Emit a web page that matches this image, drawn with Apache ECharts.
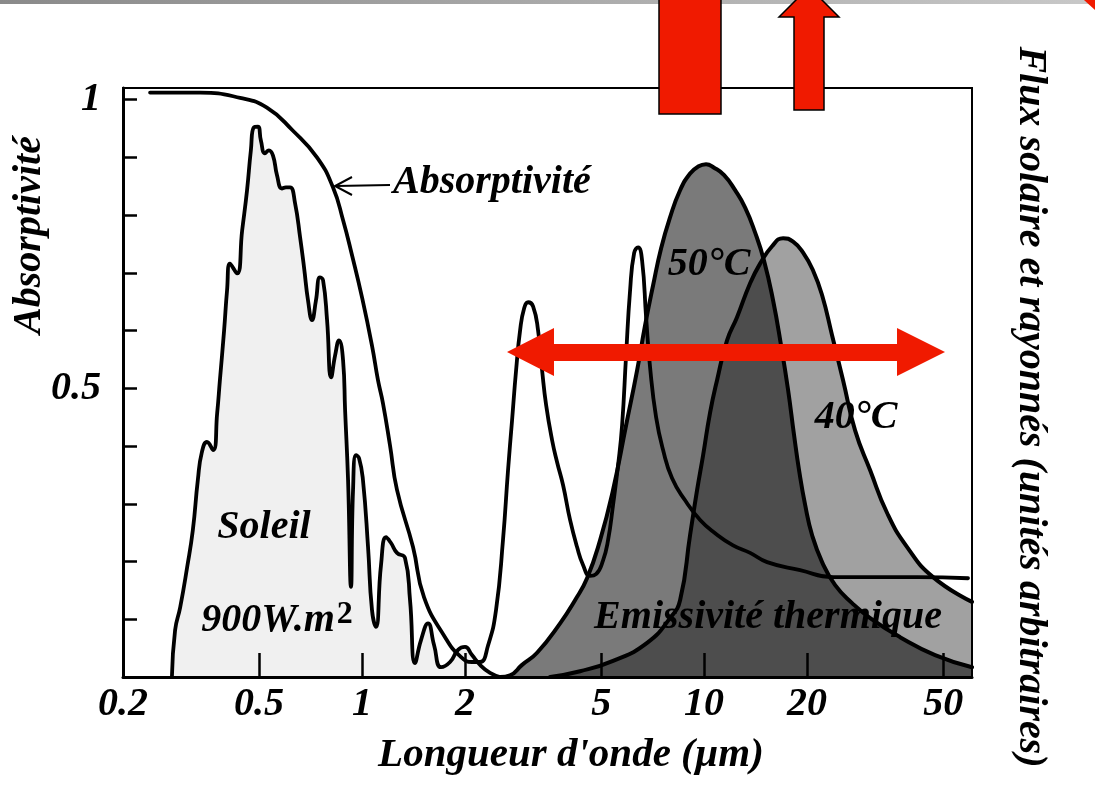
<!DOCTYPE html>
<html><head><meta charset="utf-8">
<script src="https://cdn.jsdelivr.net/npm/echarts@6/dist/echarts.min.js"></script>
<style>html,body{margin:0;padding:0;background:#fff}#c{width:1095px;height:787px}</style>
</head><body><div id="c"></div>
<script>
// ---- data (wavelength in µm, value in arbitrary units / absorptivity) ----
const xTicks = [0.2, 0.5, 1, 2, 5, 10, 20, 50];
const xTickLabels = ['0.2', '0.5', '1', '2', '5', '10', '20', '50'];
const yTicks = [0.1, 0.2, 0.3, 0.4, 0.5, 0.6, 0.7, 0.8, 0.9, 1.0];
const yLabelValues = [0.5, 1];
const xRange = [0.2, 60.7];
const yRange = [0, 1.02];

const soleil = [
 [0.278,0],[0.284,0.081],[0.294,0.121],[0.308,0.19],[0.320,0.254],[0.331,0.341],[0.340,0.389],
 [0.352,0.407],[0.367,0.393],[0.377,0.457],[0.384,0.514],[0.395,0.600],[0.403,0.67],[0.411,0.716],
 [0.431,0.699],[0.446,0.773],[0.461,0.843],[0.473,0.912],[0.483,0.952],[0.496,0.953],[0.506,0.929],
 [0.520,0.907],[0.534,0.912],[0.549,0.903],[0.564,0.869],[0.583,0.846],[0.599,0.848],[0.616,0.848],
 [0.637,0.820],[0.659,0.761],[0.677,0.708],[0.695,0.652],[0.714,0.618],[0.733,0.652],[0.753,0.692],
 [0.769,0.687],[0.790,0.618],[0.812,0.519],[0.834,0.557],[0.856,0.583],[0.880,0.548],[0.892,0.462],
 [0.910,0.341],[0.928,0.156],[0.941,0.324],[0.960,0.384],[0.980,0.379],[1.006,0.341],[1.041,0.225],
 [1.069,0.116],[1.098,0.087],[1.136,0.194],[1.175,0.242],[1.215,0.232],[1.265,0.215],[1.335,0.206],
 [1.381,0.133],[1.428,0.024],[1.487,0.064],[1.559,0.093],[1.624,0.055],[1.702,0.017],[1.808,0.026],
 [1.908,0.047],[2.0,0.052],[2.096,0.038],[2.213,0.021],[2.366,0.007],[2.531,0]
];

const absorptivite = [
 [0.240,1.012],[0.336,1.012],[0.440,1.003],[0.527,0.986],[0.628,0.946],[0.738,0.900],[0.822,0.848],
 [0.880,0.791],[0.935,0.730],[1.000,0.657],[1.069,0.574],[1.113,0.514],[1.151,0.474],[1.207,0.401],
 [1.265,0.324],[1.409,0.225],[1.518,0.138],[1.748,0.069],[1.934,0.036],[2.096,0.026],[2.213,0.026],
 [2.336,0.055],[2.464,0.116],[2.582,0.237],[2.671,0.358],[2.745,0.445],[2.820,0.531],[2.897,0.600],
 [2.976,0.638],[3.058,0.649],[3.162,0.642],[3.270,0.600],[3.360,0.531],[3.452,0.471],[3.594,0.410],
 [3.717,0.372],[3.870,0.332],[4.056,0.272],[4.252,0.225],[4.426,0.194],[4.640,0.175],[4.831,0.178],
 [5.065,0.202],[5.238,0.237],[5.417,0.298],[5.604,0.367],[5.757,0.436],[5.914,0.557],[6.076,0.670],
 [6.242,0.734],[6.412,0.744],[6.587,0.721],[6.767,0.623],[6.951,0.536],[7.237,0.450],[7.586,0.393],
 [8.060,0.344],[8.797,0.306],[9.733,0.272],[10.77,0.249],[12.15,0.228],[13.63,0.215],[15.28,0.199],
 [19.08,0.185],[23.82,0.173],[30.58,0.173],[41.95,0.173],[59.1,0.171]
];

const emission50 = [
 [2.531,0],[2.708,0.003],[2.936,0.021],[3.248,0.042],[3.793,0.093],[4.194,0.133],[4.547,0.171],
 [4.965,0.237],[5.417,0.324],[5.914,0.436],[6.369,0.531],[6.720,0.609],[7.091,0.678],[7.484,0.742],
 [7.950,0.796],[8.506,0.843],[9.099,0.872],[9.603,0.884],[10.13,0.888],[10.69,0.882],[11.44,0.869],
 [12.32,0.843],[13.18,0.813],[14.09,0.770],[14.97,0.721],[15.91,0.652],[16.79,0.574],[17.60,0.497],
 [18.32,0.419],[18.95,0.358],[19.74,0.298],[20.68,0.246],[22.13,0.199],[24.16,0.159],[27.08,0.128],
 [30.58,0.102],[37.40,0.069],[47.34,0.038],[60.7,0.017]
];

const emission40 = [
 [3.546,0],[4.340,0.010],[5.417,0.028],[6.813,0.059],[7.950,0.102],[8.506,0.133],[9.099,0.246],
 [9.540,0.324],[9.932,0.384],[10.41,0.458],[10.91,0.514],[11.67,0.583],[12.48,0.623],[13.63,0.682],
 [14.58,0.716],[15.80,0.746],[17.02,0.760],[18.20,0.754],[19.47,0.735],[20.82,0.704],[22.13,0.661],
 [23.66,0.592],[25.48,0.514],[27.63,0.427],[30.58,0.358],[34.28,0.284],[39.22,0.225],[46.70,0.173],
 [60.7,0.130]
];

// ---- chart ----
const FONT = "'Liberation Serif','Times New Roman',serif";
const RED = '#f01a00';
const lg = v => Math.log10(v);
const toXY = arr => arr.map(p => [lg(p[0]), p[1]]);
function xLabel(v) {
  for (let i = 0; i < xTicks.length; i++) if (Math.abs(lg(xTicks[i]) - v) < 1e-6) return xTickLabels[i];
  return '';
}
const labelStyle = {fontFamily: FONT, fontSize: 40, fontStyle: 'italic', fontWeight: 'bold', color: '#000'};

function lineSeries(name, data, area, z, w) {
  const s = {
    name, type: 'line', data: toXY(data), showSymbol: false, symbol: 'none',
    smooth: 0.5, z: z, animation: false,
    lineStyle: {color: '#000', width: w || 4, join: 'round', cap: 'round'}
  };
  if (area) s.areaStyle = {color: area, opacity: 1, origin: 'start'};
  return s;
}

function t(x, y, text, size, rot, align) {
  return {type: 'text', x, y, rotation: rot || 0, z: 200,
    style: {text, font: 'italic bold ' + size + 'px ' + FONT, fill: '#000',
      align: align || 'center', verticalAlign: 'middle'}};
}

const chart = echarts.init(document.getElementById('c'), null, {renderer: 'canvas'});
chart.setOption({
  backgroundColor: '#fff',
  animation: false,
  grid: {left: 123, right: 123, top: 88, bottom: 110, show: true, borderColor: '#000', borderWidth: 2,
    backgroundColor: 'transparent', containLabel: false, outerBoundsMode: 'none'},
  xAxis: {
    type: 'value', min: lg(xRange[0]), max: lg(xRange[1]), z: 5,
    axisLine: {show: true, onZero: false, lineStyle: {color: '#000', width: 3}},
    axisTick: {show: true, inside: true, length: 24, lineStyle: {color: '#000', width: 2.5},
      customValues: xTicks.slice(1).map(lg)},
    axisLabel: Object.assign({show: true, margin: 8, customValues: xTicks.map(lg), formatter: xLabel}, labelStyle),
    splitLine: {show: false}
  },
  yAxis: {
    type: 'value', min: yRange[0], max: yRange[1], z: 5,
    axisLine: {show: true, onZero: false, lineStyle: {color: '#000', width: 3}},
    axisTick: {show: true, inside: true, length: 14, lineStyle: {color: '#000', width: 2.5}, customValues: yTicks},
    axisLabel: Object.assign({show: true, margin: 22, customValues: yLabelValues, formatter: v => String(v)}, labelStyle),
    splitLine: {show: false}
  },
  series: [
    lineSeries('Soleil 900W.m²', soleil, '#f0f0f0', 1, 3.8),
    lineSeries('50°C', emission50, 'rgba(0,0,0,0.52)', 2),
    lineSeries('40°C', emission40, 'rgba(0,0,0,0.37)', 3),
    lineSeries('Absorptivité', absorptivite, null, 4, 3.8)
  ],
  graphic: [
    {type: 'rect', z: 150, shape: {x: 0, y: 0, width: 1095, height: 4},
      style: {fill: new echarts.graphic.LinearGradient(0, 0, 1, 0, [{offset: 0, color: '#8a8a8a'}, {offset: 1, color: '#c8c8c8'}])}},
    {type: 'polygon', z: 160, shape: {points: [[1084, 0], [1095, 0], [1095, 10]]}, style: {fill: RED}},
    {type: 'rect', z: 160, shape: {x: 659, y: -2, width: 62, height: 116}, style: {fill: RED, stroke: '#000', lineWidth: 1.5}},
    {type: 'polygon', z: 160, shape: {points: [[794, 110], [794, 17], [779, 17], [809, -13], [839, 17], [824, 17], [824, 110]]},
      style: {fill: RED, stroke: '#000', lineWidth: 1.5}},
    {type: 'polygon', z: 190, shape: {points: [[507, 352], [554, 328], [554, 344], [897, 344], [897, 328], [945, 352],
      [897, 376], [897, 361], [554, 361], [554, 376]]}, style: {fill: RED}},
    {type: 'polyline', z: 200, shape: {points: [[390, 185], [336, 186]]}, style: {stroke: '#000', lineWidth: 2, fill: null}},
    {type: 'polyline', z: 200, shape: {points: [[352, 177], [335, 186], [352, 195]]}, style: {stroke: '#000', lineWidth: 2, fill: null}},
    t(393, 183, 'Absorptivité', 40, 0, 'left'),
    t(264, 528, 'Soleil', 40),
    {type: 'text', x: 277, y: 621, z: 200,
      style: {text: '{a|900W.m}{b|2}', align: 'center', verticalAlign: 'middle', fill: '#000',
        rich: {a: {font: 'italic bold 40px ' + FONT, fill: '#000', lineHeight: 44},
               b: {font: 'bold 32px ' + FONT, fill: '#000', verticalAlign: 'top', lineHeight: 18, padding: [0, 0, 0, 2]}}}},
    t(709, 265, '50°C', 40),
    t(856, 418, '40°C', 40),
    t(768, 618, 'Emissivité thermique', 40),
    t(30, 235, 'Absorptivité', 40, Math.PI / 2),
    t(571, 755, "Longueur d'onde (µm)", 41),
    t(1030, 407, 'Flux solaire et rayonnés (unités arbitraires)', 40, -Math.PI / 2)
  ]
});
</script>
</body></html>
